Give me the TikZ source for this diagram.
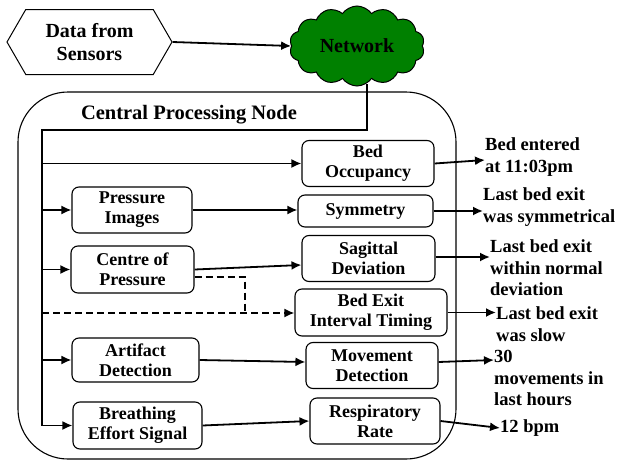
\documentclass[tikz,border=0pt]{standalone}
\usepackage{fontspec}
\setmainfont{Liberation Serif}[BoldFont={Liberation Serif Bold}]
\usetikzlibrary{shapes.symbols,arrows.meta}

\begin{document}
\begin{tikzpicture}[x=1pt, y=-1pt, >={Latex[length=10pt,width=9pt]},
rectStep/.style={rectangle, draw=black, line width=1.1pt, rounded corners=7pt, inner sep=1pt, minimum height=46pt, align=center, font=\fontsize{18}{20}\selectfont\bfseries},
rectOut/.style={rectangle, inner sep=0pt, align=left, anchor=west, font=\fontsize{18.5}{21.5}\selectfont\bfseries},
hexSource/.style={signal, signal to=west and east, signal pointer angle=120, draw=black, line width=1pt, minimum width=165pt, minimum height=65pt, align=center, font=\fontsize{20}{23}\selectfont\bfseries},
cloudNet/.style={cloud, cloud puffs=14, cloud puff arc=110, cloud ignores aspect, draw=black, line width=1pt, fill=netgreen, minimum width=135pt, minimum height=80pt, inner xsep=0pt, inner ysep=11pt, font=\fontsize{20}{23}\selectfont\bfseries},
trunk/.style={line width=2.6pt},
link/.style={line width=1.8pt},
dashLink/.style={line width=1.8pt, dash pattern=on 7pt off 4pt}
]
\definecolor{netgreen}{RGB}{0,128,0}
\useasboundingbox (0,0) rectangle (619,461);

% central processing node frame
\draw[line width=1.1pt, rounded corners=50pt] (18,92) rectangle (456,459);
\node[font=\fontsize{20.5}{23}\selectfont\bfseries] (cpnTitle) at (189,115) {Central Processing Node};

\node[hexSource] (sensors) at (89.5,42) {Data from\\Sensors};
\node[cloudNet] (network) at (357,46) {Network};

\node[rectStep, minimum width=132pt] (bedOcc) at (368,163.5) {Bed\\Occupancy};
\node[rectStep, minimum width=135pt, minimum height=32pt] (symmetry) at (365.5,211) {Symmetry};
\node[rectStep, minimum width=133pt] (sagittal) at (368.5,258.5) {Sagittal\\Deviation};
\node[rectStep, minimum width=152pt, minimum height=47pt] (bedExit) at (371,312.5) {Bed Exit\\Interval Timing};
\node[rectStep, minimum width=132pt] (movement) at (372,365.5) {Movement\\Detection};
\node[rectStep, minimum width=130pt] (respRate) at (375,421) {Respiratory\\Rate};

\node[rectStep, minimum width=120pt] (pressure) at (132,210) {Pressure\\Images};
\node[rectStep, minimum width=123pt, minimum height=47pt] (centre) at (132.5,269.5) {Centre of\\Pressure};
\node[rectStep, minimum width=127pt, minimum height=44pt] (artifact) at (135.5,360) {Artifact\\Detection};
\node[rectStep, minimum width=129pt, minimum height=47pt] (breathing) at (137.5,425.5) {Breathing\\Effort Signal};

\node[rectOut] (outBed) at (485,157) {Bed entered\\at 11:03pm};
\node[rectOut] (outSym) at (483,207) {Last bed exit\\was symmetrical};
\node[rectOut] (outSag) at (490,268) {Last bed exit\\within normal\\deviation};
\node[rectOut] (outExit) at (496,324) {Last bed exit\\was slow};
\node[rectOut] (outMove) at (494,378) {30\\movements in\\last hours};
\node[rectOut] (outResp) at (500,428) {12 bpm};

\coordinate (netDown) at (367,84);
\coordinate (trunkRight) at (367,130);
\coordinate (trunkLeft) at (42,130);
\coordinate (trunkEnd) at (42,426);
\coordinate (dashKnee) at (245,313);

\draw[trunk] (netDown) -- (trunkRight) -- (trunkLeft) -- (trunkEnd);
\draw[link, ->] (sensors.east) -- (network.west);

\draw[link, ->] (trunkLeft |- bedOcc) -- (bedOcc);
\draw[link, ->] (trunkLeft |- pressure) -- (pressure);
\draw[link, ->] (trunkLeft |- centre) -- (centre);
\draw[link, ->] (trunkLeft |- artifact) -- (artifact);
\draw[link, ->] (trunkLeft |- breathing) -- (breathing);

\draw[link, ->] (pressure.east) -- (pressure.east -| symmetry.west);
\draw[link, ->] (centre.east) -- (sagittal.west |- 0,265);
\draw[link, ->] (artifact.east) -- (movement.west |- 0,362);
\draw[link, ->] (breathing.east) -- (respRate.west |- 0,421);

\draw[dashLink] (centre.-7) -| (dashKnee);
\draw[dashLink, ->] (trunkLeft |- dashKnee) -- (dashKnee) -- (bedExit.west |- dashKnee);

\draw[link, ->] (bedOcc.east) -- (outBed.west |- 0,160);
\draw[link, ->] (symmetry.east) -- (outSym.west |- symmetry);
\draw[link, ->] (sagittal.east |- 0,257) -- (outSag.west |- 0,257);
\draw[link, ->] (bedExit.east) -- (outExit.west |- bedExit);
\draw[link, ->] (movement.east |- 0,362) -- (outMove.west |- 0,360);
\draw[link, ->] (respRate.east) -- (outResp.west);

\end{tikzpicture}
\end{document}
